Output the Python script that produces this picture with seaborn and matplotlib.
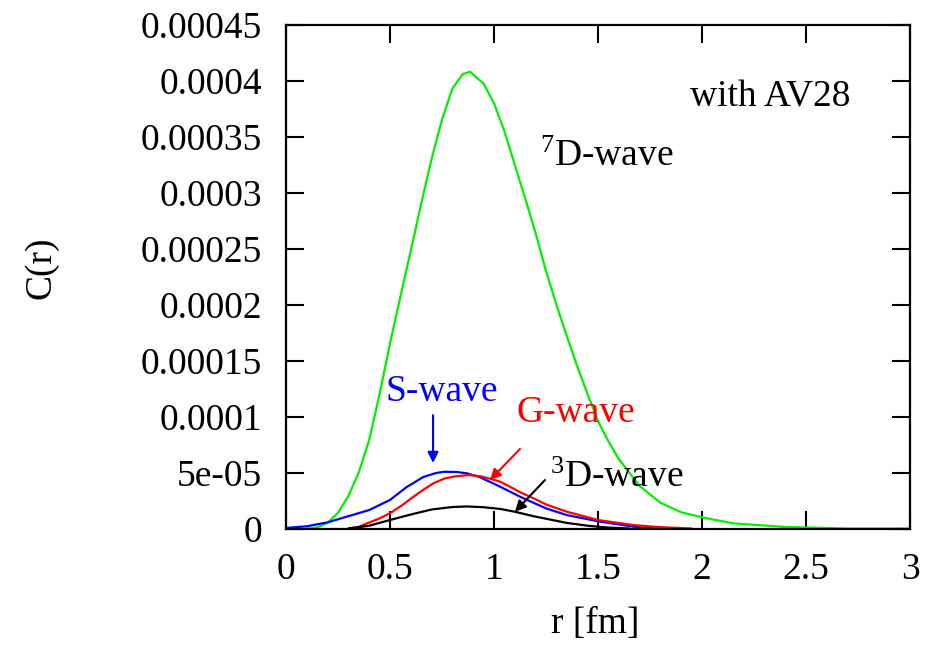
import pandas as pd
import seaborn as sns
import matplotlib
matplotlib.use("Agg")
import matplotlib.pyplot as plt

# values
r_7d = [0.1, 0.15, 0.2, 0.25, 0.3, 0.35, 0.4, 0.45, 0.5, 0.55, 0.6, 0.65, 0.7, 0.75,
        0.8, 0.85, 0.885, 0.95, 1.0, 1.05, 1.1, 1.15, 1.2, 1.25, 1.3, 1.35, 1.4,
        1.45, 1.5, 1.55, 1.6, 1.7, 1.8, 1.9, 2.0, 2.15, 2.4, 2.7, 3.0]
c_7d = [0, 1e-6, 5e-6, 1.4e-5, 2.9e-5, 5.0e-5, 7.9e-5, 1.2e-4, 1.65e-4, 2.07e-4,
        2.48e-4, 2.9e-4, 3.3e-4, 3.65e-4, 3.93e-4, 4.06e-4, 4.08e-4, 3.975e-4,
        3.8e-4, 3.55e-4, 3.25e-4, 2.95e-4, 2.64e-4, 2.3e-4, 2.0e-4, 1.72e-4,
        1.45e-4, 1.2e-4, 9.6e-5, 7.8e-5, 6.2e-5, 3.8e-5, 2.3e-5, 1.45e-5, 1.0e-5,
        4.6e-6, 1.4e-6, 0, 0]

r_s = [0.0, 0.1, 0.2, 0.3, 0.4, 0.5, 0.58, 0.66, 0.72, 0.76, 0.82, 0.87, 0.93, 1.0,
       1.06, 1.13, 1.19, 1.25, 1.35, 1.5, 1.67, 1.8]
c_s = [5e-7, 2e-6, 5.5e-6, 1.1e-5, 1.65e-5, 2.55e-5, 3.7e-5, 4.6e-5, 4.95e-5, 5.07e-5,
       5.05e-5, 4.93e-5, 4.6e-5, 4.0e-5, 3.45e-5, 2.8e-5, 2.3e-5, 1.8e-5, 1.2e-5,
       6.5e-6, 1.6e-6, 0]

r_g = [0.3, 0.35, 0.39, 0.45, 0.5, 0.56, 0.61, 0.66, 0.71, 0.76, 0.81, 0.88, 0.94, 1.0,
       1.03, 1.07, 1.13, 1.19, 1.25, 1.35, 1.5, 1.67, 1.8, 1.95]
c_g = [0, 1.5e-6, 4.6e-6, 9e-6, 1.36e-5, 2.1e-5, 2.8e-5, 3.45e-5, 4.05e-5, 4.45e-5,
       4.65e-5, 4.78e-5, 4.65e-5, 4.35e-5, 4.18e-5, 3.8e-5, 3.2e-5, 2.7e-5, 2.15e-5,
       1.5e-5, 7.6e-6, 3.1e-6, 1.2e-6, 0]

r_3d = [0.3, 0.4, 0.5, 0.6, 0.7, 0.8, 0.87, 0.95, 1.03, 1.1, 1.19, 1.27, 1.35, 1.45,
        1.55, 1.65]
c_3d = [0, 2.5e-6, 7.6e-6, 1.25e-5, 1.7e-5, 1.92e-5, 1.97e-5, 1.9e-5, 1.75e-5, 1.5e-5,
        1.1e-5, 8e-6, 5e-6, 2.5e-6, 8e-7, 0]

x_ticks = [0, 0.5, 1, 1.5, 2, 2.5, 3]
x_ticklabels = ["0", "0.5", "1", "1.5", "2", "2.5", "3"]
y_ticks = [0, 5e-5, 1e-4, 1.5e-4, 2e-4, 2.5e-4, 3e-4, 3.5e-4, 4e-4, 4.5e-4]
y_ticklabels = ["0", "5e-05", "0.0001", "0.00015", "0.0002", "0.00025", "0.0003",
                "0.00035", "0.0004", "0.00045"]

waves = pd.concat([
    pd.DataFrame({"r": r_7d, "C": c_7d, "wave": "7D"}),
    pd.DataFrame({"r": r_s, "C": c_s, "wave": "S"}),
    pd.DataFrame({"r": r_g, "C": c_g, "wave": "G"}),
    pd.DataFrame({"r": r_3d, "C": c_3d, "wave": "3D"}),
])
colors = {"7D": "#00f000", "S": "#0000ff", "G": "#ff0000", "3D": "#000000"}

sns.set_style("ticks")
plt.rcParams["font.family"] = ["Liberation Serif", "DejaVu Serif"]
plt.rcParams["mathtext.fontset"] = "custom"
plt.rcParams["mathtext.rm"] = "Liberation Serif"
plt.rcParams["mathtext.it"] = "Liberation Serif:italic"
plt.rcParams["text.color"] = "black"
plt.rcParams["axes.labelcolor"] = "black"

fig = plt.figure(figsize=(9.3, 6.45), dpi=100)
ax = fig.add_axes([0.3075, 0.1806, 0.671, 0.781])

sns.lineplot(data=waves, x="r", y="C", hue="wave", palette=colors, lw=1.6,
             legend=False, sort=False, estimator=None, ax=ax)

fs = 27
ax.set_xlim(0, 3)
ax.set_ylim(0, 4.5e-4)
ax.set_xticks(x_ticks)
ax.set_xticklabels(x_ticklabels)
ax.set_yticks(y_ticks)
ax.set_yticklabels(y_ticklabels)
ax.tick_params(direction="in", length=13, width=1.5, labelsize=fs, top=True,
               right=True, colors="black")
ax.tick_params(axis="x", pad=17)
ax.tick_params(axis="y", pad=17)
for s in ax.spines.values():
    s.set_linewidth(1.6)
    s.set_color("black")

ax.set_xlabel("r [fm]", fontsize=fs)
ax.set_ylabel("C(r)", fontsize=fs)
ax.xaxis.set_label_coords(0.495, -0.155)
ax.yaxis.set_label_coords(-0.365, 0.517)

ax.text(1.94, 3.85e-4, "with AV28", fontsize=fs, va="center", ha="left")
ax.text(1.22, 3.32e-4, r"$^{7}$D-wave", fontsize=fs, va="center", ha="left")
ax.text(0.48, 1.22e-4, "S-wave", fontsize=fs, va="center", ha="left", color="#0000ff")
ax.text(1.11, 1.03e-4, "G-wave", fontsize=fs, va="center", ha="left", color="#ff0000")
ax.text(1.27, 4.5e-5, r"$^{3}$D-wave", fontsize=fs, va="center", ha="left")

arrow = dict(arrowstyle="-|>", lw=1.5, mutation_scale=16, shrinkA=0, shrinkB=0)
ax.annotate("", xy=(0.707, 5.85e-5), xytext=(0.707, 1.013e-4),
            arrowprops=dict(arrow, color="#0000ff"))
ax.annotate("", xy=(0.981, 4.33e-5), xytext=(1.125, 7.1e-5),
            arrowprops=dict(arrow, color="#ff0000"))
ax.annotate("", xy=(1.101, 1.5e-5), xytext=(1.245, 4.33e-5),
            arrowprops=dict(arrow, color="black"))

fig.savefig("out.png", dpi=100)
